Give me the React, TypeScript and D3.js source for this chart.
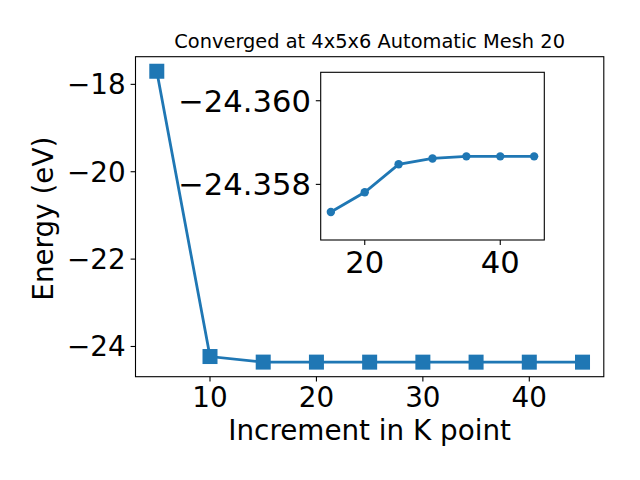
import React from "react";
import * as d3 from "d3";

const kPoints = [5, 10, 15, 20, 25, 30, 35, 40, 45];
const energies = [-17.7, -24.23, -24.35734, -24.35781, -24.35848, -24.35862, -24.35867, -24.35867, -24.35867];
const insetK = [15, 20, 25, 30, 35, 40, 45];
const insetE = [-24.35734, -24.35781, -24.35848, -24.35862, -24.35867, -24.35867, -24.35867];
const mainXTicks = [10, 20, 30, 40];
const mainYTicks = [-24, -22, -20, -18];
const insetXTicks = [20, 40];
const insetYTicks = [-24.36, -24.358];
const titleText = "Converged at 4x5x6 Automatic Mesh 20";
const xLabel = "Increment in K point";
const yLabel = "Energy (eV)";

const COLOR = "#1f77b4";
const FONT = "DejaVu Sans, sans-serif";

export default function App() {
  const left = 135.5, right = 603.8, top = 56.7, bottom = 376.7;
  const x = d3.scaleLinear().domain([3, 47]).range([left, right]);
  const yMin = d3.min(energies)!, yMax = d3.max(energies)!;
  const pad = (yMax - yMin) * 0.05;
  const y = d3.scaleLinear().domain([yMin - pad, yMax + pad]).range([bottom, top]);

  const iL = 320.7, iR = 544.3, iT = 72.3, iB = 240;
  const ix = d3.scaleLinear().domain([13.5, 46.5]).range([iL, iR]);
  const iy = d3.scaleLinear().domain([-24.35667, -24.36068]).range([iB, iT]);

  const line = d3.line<number>().x((_, i) => x(kPoints[i])).y((d) => y(d));
  const iline = d3.line<number>().x((_, i) => ix(insetK[i])).y((d) => iy(d));
  const tickLen = 4.9;
  const fmtMain = (v: number) => (v < 0 ? "\u2212" + Math.abs(v) : String(v));
  const fmtInset = (v: number) => "\u2212" + Math.abs(v).toFixed(3);

  return (
    <svg width={640} height={480} style={{ position: "absolute", left: 0, top: 0, background: "#fff" }} fontFamily={FONT}>
      <rect x={0} y={0} width={640} height={480} fill="#fff" />
      {/* main axes */}
      <text x={(left + right) / 2} y={48} fontSize={19.4} textAnchor="middle">{titleText}</text>
      <path d={line(energies)!} fill="none" stroke={COLOR} strokeWidth={2.8} />
      {energies.map((e, i) => (
        <rect key={i} x={x(kPoints[i]) - 7.5} y={y(e) - 7.5} width={15} height={15} fill={COLOR} />
      ))}
      <rect x={left} y={top} width={right - left} height={bottom - top} fill="none" stroke="#000" strokeWidth={1.1} />
      {mainXTicks.map((t) => (
        <g key={t}>
          <line x1={x(t)} x2={x(t)} y1={bottom} y2={bottom + tickLen} stroke="#000" strokeWidth={1.1} />
          <text x={x(t)} y={bottom + 30} fontSize={27.8} textAnchor="middle">{fmtMain(t)}</text>
        </g>
      ))}
      {mainYTicks.map((t) => (
        <g key={t}>
          <line x1={left - tickLen} x2={left} y1={y(t)} y2={y(t)} stroke="#000" strokeWidth={1.1} />
          <text x={left - tickLen - 4.9} y={y(t)} dy="0.36em" fontSize={27.8} textAnchor="end">{fmtMain(t)}</text>
        </g>
      ))}
      <text x={(left + right) / 2} y={440} fontSize={27.8} textAnchor="middle">{xLabel}</text>
      <text transform={`translate(52.5,${(top + bottom) / 2 + 2}) rotate(-90)`} fontSize={27.8} textAnchor="middle">{yLabel}</text>

      {/* inset */}
      <rect x={iL} y={iT} width={iR - iL} height={iB - iT} fill="#fff" stroke="none" />
      <path d={iline(insetE)!} fill="none" stroke={COLOR} strokeWidth={2.8} />
      {insetE.map((e, i) => (
        <circle key={i} cx={ix(insetK[i])} cy={iy(e)} r={4.2} fill={COLOR} />
      ))}
      <rect x={iL} y={iT} width={iR - iL} height={iB - iT} fill="none" stroke="#000" strokeWidth={1.1} />
      {insetXTicks.map((t) => (
        <g key={t}>
          <line x1={ix(t)} x2={ix(t)} y1={iB} y2={iB + tickLen} stroke="#000" strokeWidth={1.1} />
          <text x={ix(t)} y={iB + 32.5} fontSize={30.6} textAnchor="middle">{t}</text>
        </g>
      ))}
      {insetYTicks.map((t) => (
        <g key={t}>
          <line x1={iL - tickLen} x2={iL} y1={iy(t)} y2={iy(t)} stroke="#000" strokeWidth={1.1} />
          <text x={iL - tickLen - 4.9} y={iy(t)} dy="0.36em" fontSize={30.6} textAnchor="end">{fmtInset(t)}</text>
        </g>
      ))}
    </svg>
  );
}
